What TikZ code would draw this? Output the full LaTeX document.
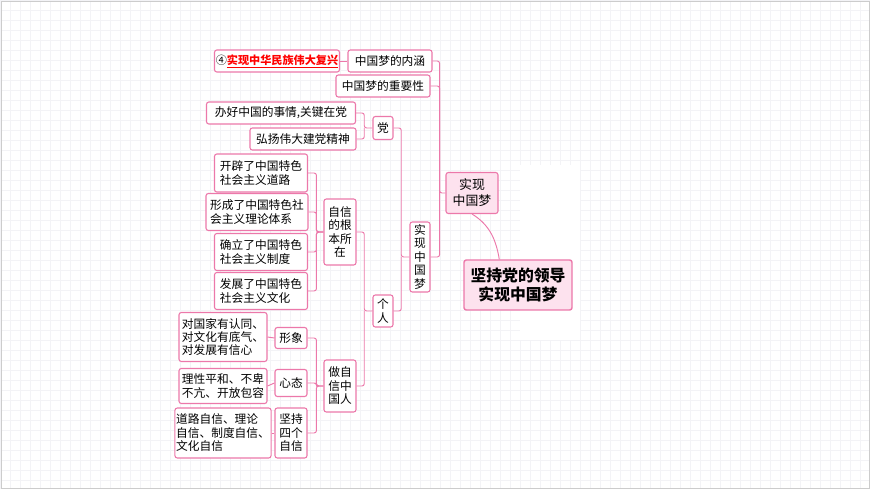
\documentclass[tikz,border=0pt]{standalone}
\usepackage{fontspec}
\newfontfamily\cjk{Noto Sans CJK SC}
\usetikzlibrary{positioning}
\definecolor{pinkline}{RGB}{236,120,170}
\definecolor{pinkfill}{RGB}{253,226,238}
\definecolor{gridc}{RGB}{243,243,246}
\tikzset{
  box/.style={draw=pinkline, line width=0.9pt, rounded corners=2pt, fill=white,
    inner sep=1pt, align=center, font=\cjk\fontsize{10}{11.5}\selectfont},
  mainbox/.style={box, fill=pinkfill, font=\cjk\fontsize{11}{13.5}\selectfont},
  link/.style={pinkline, line width=0.8pt, rounded corners=2pt}
}
\begin{document}
\begin{tikzpicture}[x=0.03cm, y=-0.03cm]
\useasboundingbox (0,0) rectangle (870,489);
\fill[white] (0,0) rectangle (870,489);
\draw[gridc, step=0.3cm] (0,0) grid (870,489);
\fill[white] (520,165) rectangle (580,340);
\draw[gray!40, line width=0.8pt] (1,1) rectangle (869,488);
% root and main branch
\node[mainbox, line width=1.2pt, minimum width=108*0.03cm, minimum height=50*0.03cm,
  font=\cjk\bfseries\fontsize{13.5}{16.5}\selectfont] (root) at (518,285) {坚持党的领导\\实现中国梦};
\node[mainbox, minimum width=52*0.03cm, minimum height=41*0.03cm] (dream) at (472,193) {实现\\中国梦};
\draw[link] (root.north west) ++(36,0) .. controls (496,240) and (490,225) .. (dream.south);
% first level
\node[box, minimum width=84*0.03cm, minimum height=22*0.03cm] (neihan) at (390,61) {中国梦的内涵};
\node[box, minimum width=125*0.03cm, minimum height=22*0.03cm,
  font=\cjk\bfseries\fontsize{9.5}{11}\selectfont] (fuxing) at (277,61) {{\mdseries ④}\textcolor{red}{\underline{实现中华民族伟大复兴}}};
\node[box, minimum width=94*0.03cm, minimum height=22*0.03cm] (zhongyao) at (383,86) {中国梦的重要性};
\node[box, minimum width=20*0.03cm, minimum height=70*0.03cm] (vdream) at (420,257) {实\\现\\中\\国\\梦};
\draw[link] (neihan.east) -| ([xshift=-5pt]dream.west) -- (dream.west);
\draw[link] (zhongyao.east) -| ([xshift=-5pt]dream.west);
\draw[link] (vdream.east) -| ([xshift=-5pt]dream.west);
\draw[link] (fuxing.east) -- (neihan.west);
% party
\node[box, minimum width=20*0.03cm, minimum height=23*0.03cm] (dang) at (383,128) {党};
\node[box, minimum width=149*0.03cm, minimum height=22*0.03cm] (banhao) at (281,113) {办好中国的事情,关键在党};
\node[box, minimum width=106*0.03cm, minimum height=22*0.03cm] (jingshen) at (303,139) {弘扬伟大建党精神};
\draw[link] (banhao.east) -| ([xshift=-7pt]dang.west) -- (dang.west);
\draw[link] (jingshen.east) -| ([xshift=-7pt]dang.west);
% person
\node[box, minimum width=20*0.03cm, minimum height=32*0.03cm] (geren) at (383,311) {个\\人};
\draw[link] (dang.east) -| ([xshift=-7pt]vdream.west) -- (vdream.west);
\draw[link] (geren.east) -| ([xshift=-7pt]vdream.west);
\node[box, minimum width=32*0.03cm, minimum height=66*0.03cm] (genben) at (340,232) {自信\\的根\\本所\\在};
\node[box, minimum width=32*0.03cm, minimum height=52*0.03cm] (zuo) at (340,386) {做自\\信中\\国人};
\draw[link] (genben.east) -| ([xshift=-7pt]geren.west) -- (geren.west);
\draw[link] (zuo.east) -| ([xshift=-7pt]geren.west);
% roots of confidence
\node[box, minimum width=93*0.03cm, minimum height=38*0.03cm, align=left] (daolu) at (261,173) {开辟了中国特色\\社会主义道路};
\node[box, minimum width=102*0.03cm, minimum height=37*0.03cm, align=left] (lilun) at (257,212) {形成了中国特色社\\会主义理论体系};
\node[box, minimum width=93*0.03cm, minimum height=37*0.03cm, align=left] (zhidu) at (261,252) {确立了中国特色\\社会主义制度};
\node[box, minimum width=93*0.03cm, minimum height=37*0.03cm, align=left] (wenhua) at (261,291) {发展了中国特色\\社会主义文化};
\foreach \n in {daolu,lilun,zhidu,wenhua}
  \draw[link] (\n.east) -| ([xshift=-6pt]genben.west) -- (genben.west);
% confident citizen
\node[box, minimum width=32*0.03cm, minimum height=21*0.03cm] (xingxiang) at (291,338) {形象};
\node[box, minimum width=32*0.03cm, minimum height=27*0.03cm] (xintai) at (291,383) {心态};
\node[box, minimum width=32*0.03cm, minimum height=50*0.03cm] (jianchi) at (291,433) {坚持\\四个\\自信};
\foreach \n in {xingxiang,xintai,jianchi}
  \draw[link] (\n.east) -| ([xshift=-6pt]zuo.west) -- (zuo.west);
\node[box, minimum width=88*0.03cm, minimum height=49*0.03cm, align=left] (rentong) at (223,337) {对国家有认同、\\对文化有底气、\\对发展有信心};
\node[box, minimum width=88*0.03cm, minimum height=35*0.03cm, align=left] (pinghe) at (223,386) {理性平和、不卑\\不亢、开放包容};
\node[box, minimum width=88*0.03cm, minimum height=50*0.03cm, align=left] (sige) at (223,433) {道路自信、理论\\自信、制度自信、\\文化自信};
\draw[link] (rentong.east) -- (xingxiang.west);
\draw[link] (pinghe.east) -- (xintai.west);
\draw[link] (sige.east) -- (jianchi.west);
\end{tikzpicture}
\end{document}
